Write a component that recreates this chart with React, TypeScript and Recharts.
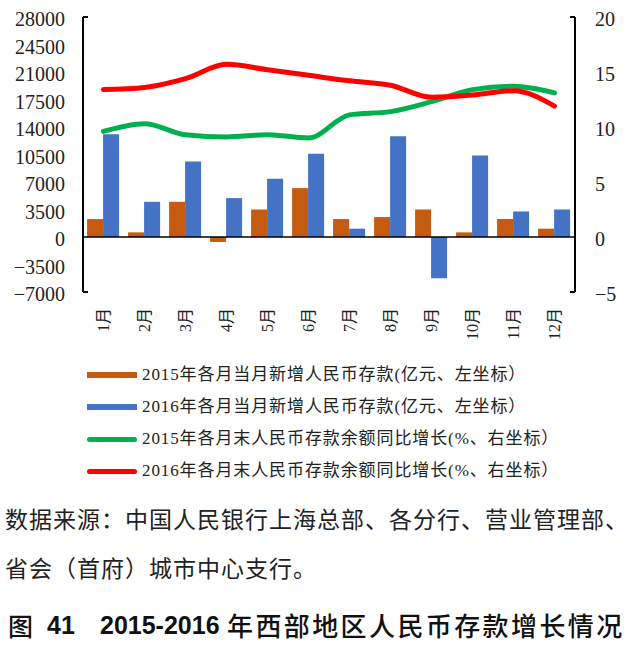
import React from 'react';
import {
  ComposedChart,
  Bar,
  Line,
  XAxis,
  YAxis,
  ReferenceLine,
} from 'recharts';

const months = ['1月', '2月', '3月', '4月', '5月', '6月', '7月', '8月', '9月', '10月', '11月', '12月'];
const deposit2015 = [2280, 590, 4480, -630, 3500, 6220, 2280, 2540, 3500, 590, 2280, 1060];
const deposit2016 = [13070, 4480, 9600, 4950, 7400, 10610, 1060, 12820, -5250, 10360, 3250, 3500];
const growth2015 = [9.6, 10.3, 9.3, 9.1, 9.3, 9.0, 11.1, 11.4, 12.3, 13.4, 13.7, 13.1];
const growth2016 = [13.4, 13.6, 14.4, 15.7, 15.2, 14.7, 14.2, 13.8, 12.7, 12.9, 13.3, 11.9];
const leftTicks = [-7000, -3500, 0, 3500, 7000, 10500, 14000, 17500, 21000, 24500, 28000];
const rightTicks = [-5, 0, 5, 10, 15, 20];

const seriesNames = [
  '2015年各月当月新增人民币存款(亿元、左坐标）',
  '2016年各月当月新增人民币存款(亿元、左坐标）',
  '2015年各月末人民币存款余额同比增长(%、右坐标）',
  '2016年各月末人民币存款余额同比增长(%、右坐标）',
];
const colors = ['#C55A11', '#4472C4', '#00B050', '#FF0000'];

const data = months.map((m, i) => ({
  month: m,
  d2015: deposit2015[i],
  d2016: deposit2016[i],
  g2015: growth2015[i],
  g2016: growth2016[i],
}));

const serif = '"Liberation Serif", "DejaVu Serif", "Noto Sans CJK SC", serif';
const cjk = '"Noto Sans CJK SC", "Liberation Sans", sans-serif';

const LeftTick = (props: any) => {
  const { x, y, payload } = props;
  const v = payload.value;
  const isEnd = v === leftTicks[0] || v === leftTicks[leftTicks.length - 1];
  return (
    <g>
      {isEnd && <line x1={x} x2={x + 5} y1={y} y2={y} stroke="#000" strokeWidth={2} />}
      <text x={x - 18} y={y + 2} textAnchor="end" dominantBaseline="central" style={{ fontSize: 20, fontFamily: serif }} fill="#222">
        {v < 0 ? '−' + Math.abs(v) : v}
      </text>
    </g>
  );
};

const RightTick = (props: any) => {
  const { x, y, payload } = props;
  const v = payload.value;
  const isEnd = v === rightTicks[0] || v === rightTicks[rightTicks.length - 1];
  return (
    <g>
      {isEnd && <line x1={x - 5} x2={x} y1={y} y2={y} stroke="#000" strokeWidth={2} />}
      <text x={x + 20} y={y + 2} textAnchor="start" dominantBaseline="central" style={{ fontSize: 20, fontFamily: serif }} fill="#222">
        {v < 0 ? '−' + Math.abs(v) : v}
      </text>
    </g>
  );
};

const MonthTick = (props: any) => {
  const { x, y, payload } = props;
  const ty = y + 16;
  return (
    <text
      x={x}
      y={ty}
      transform={`rotate(-90, ${x}, ${ty})`}
      textAnchor="end"
      dominantBaseline="central"
      style={{ fontSize: 16, fontFamily: serif }}
      fill="#222"
    >
      {payload.value}
    </text>
  );
};

export default function App() {
  return (
    <div style={{ position: 'absolute', left: 0, top: 0, width: 640, height: 666, background: '#fff', overflow: 'hidden' }}>
      <ComposedChart
        width={640}
        height={360}
        data={data}
        margin={{ top: 17, right: 0, left: 8, bottom: 0 }}
        barGap={0}
        barCategoryGap="10%"
      >
        <XAxis
          dataKey="month"
          height={68}
          axisLine={false}
          tickLine={false}
          tickSize={0}
          tickMargin={0}
          interval={0}
          tick={<MonthTick />}
        />
        <YAxis
          yAxisId="left"
          orientation="left"
          width={75}
          domain={[-7000, 28000]}
          ticks={leftTicks}
          interval={0}
          axisLine={{ stroke: '#000', strokeWidth: 2 }}
          tickLine={false}
          tickSize={0}
          tickMargin={0}
          tick={<LeftTick />}
        />
        <YAxis
          yAxisId="right"
          orientation="right"
          width={65}
          domain={[-5, 20]}
          ticks={rightTicks}
          interval={0}
          axisLine={{ stroke: '#000', strokeWidth: 2 }}
          tickLine={false}
          tickSize={0}
          tickMargin={0}
          tick={<RightTick />}
        />
        <Bar yAxisId="left" dataKey="d2015" name={seriesNames[0]} fill={colors[0]} isAnimationActive={false} />
        <Bar yAxisId="left" dataKey="d2016" name={seriesNames[1]} fill={colors[1]} isAnimationActive={false} />
        <ReferenceLine yAxisId="left" y={0} stroke="#000" strokeWidth={1.5} />
        <Line
          yAxisId="right"
          type="monotone"
          dataKey="g2015"
          name={seriesNames[2]}
          stroke={colors[2]}
          strokeWidth={5}
          strokeLinecap="round"
          dot={false}
          isAnimationActive={false}
        />
        <Line
          yAxisId="right"
          type="monotone"
          dataKey="g2016"
          name={seriesNames[3]}
          stroke={colors[3]}
          strokeWidth={5}
          strokeLinecap="round"
          dot={false}
          isAnimationActive={false}
        />
      </ComposedChart>

      {seriesNames.map((name, i) => {
        const cy = 375 + i * 32;
        const isBar = i < 2;
        return (
          <div key={name} style={{ position: 'absolute', left: 0, top: cy - 12, height: 24, width: 640 }}>
            <div
              style={{
                position: 'absolute',
                left: 87,
                top: isBar ? 9 : 9.5,
                width: 50,
                height: isBar ? 6 : 5,
                background: colors[i],
                borderRadius: isBar ? 0 : 3,
              }}
            />
            <div
              style={{
                position: 'absolute',
                left: 142,
                top: 0,
                lineHeight: '24px',
                fontSize: 17,
                letterSpacing: 0.9,
                fontFamily: serif,
                color: '#222',
                whiteSpace: 'nowrap',
              }}
            >
              {name}
            </div>
          </div>
        );
      })}

      <div
        style={{
          position: 'absolute',
          left: 5,
          top: 503,
          fontSize: 23,
          lineHeight: '30px',
          letterSpacing: 1,
          fontFamily: cjk,
          color: '#222',
          whiteSpace: 'nowrap',
        }}
      >
        数据来源：中国人民银行上海总部、各分行、营业管理部、
      </div>
      <div
        style={{
          position: 'absolute',
          left: 5,
          top: 552,
          fontSize: 23,
          lineHeight: '30px',
          letterSpacing: 1,
          fontFamily: cjk,
          color: '#222',
          whiteSpace: 'nowrap',
        }}
      >
        省会（首府）城市中心支行。
      </div>

      <div
        style={{
          position: 'absolute',
          left: 0,
          top: 609,
          height: 32,
          width: 640,
          fontSize: 25,
          lineHeight: '32px',
          fontWeight: 500,
          fontFamily: cjk,
          color: '#111',
          whiteSpace: 'nowrap',
        }}
      >
        <span style={{ position: 'absolute', left: 8 }}>图</span>
        <span style={{ position: 'absolute', left: 47, fontFamily: '"Liberation Sans", sans-serif', fontWeight: 700 }}>41</span>
        <span style={{ position: 'absolute', left: 100, fontFamily: '"Liberation Sans", sans-serif', fontWeight: 700 }}>2015-2016</span>
        <span style={{ position: 'absolute', left: 227, fontSize: 26, letterSpacing: 2.4 }}>年西部地区人民币存款增长情况</span>
      </div>
    </div>
  );
}
